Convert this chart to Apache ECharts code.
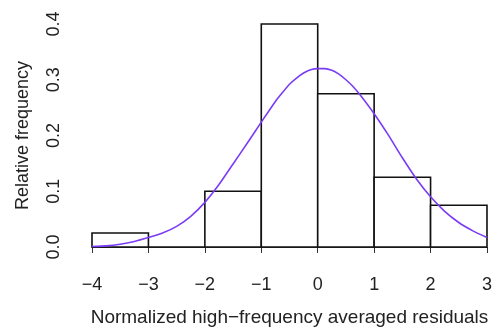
<!DOCTYPE html>
<html>
<head>
<meta charset="utf-8">
<script src="https://cdn.jsdelivr.net/npm/echarts@6/dist/echarts.min.js"></script>
<style>
  html, body { margin: 0; padding: 0; background: #fff; }
  #chart { width: 495px; height: 332px; }
</style>
</head>
<body>
<div id="chart"></div>
<script>
// histogram bins (left edge, width 1) and relative frequencies
var binStart = [-4, -3, -2, -1, 0, 1, 2];
var binFreq = [0.025, 0, 0.1, 0.4, 0.275, 0.125, 0.075];

// fitted density curve
var curveX = [-4, -3.75, -3.5, -3.25, -3, -2.75, -2.5, -2.25, -2, -1.75, -1.5, -1.25, -1, -0.75, -0.625, -0.5, -0.375, -0.25, -0.125,
              0, 0.125, 0.25, 0.375, 0.5, 0.625, 0.75, 1, 1.25, 1.5, 1.75, 2, 2.25, 2.5, 2.75, 3];
var curveY = [0.001, 0.002, 0.005, 0.010, 0.017, 0.025, 0.037, 0.055, 0.080, 0.112, 0.149, 0.186, 0.224, 0.261, 0.277, 0.292, 0.303, 0.312, 0.318,
              0.320, 0.320, 0.317, 0.310, 0.300, 0.288, 0.273, 0.239, 0.201, 0.160, 0.122, 0.090, 0.064, 0.044, 0.029, 0.017];

var xTicks = [-4, -3, -2, -1, 0, 1, 2, 3];
var yTicks = [0, 0.1, 0.2, 0.3, 0.4];

var font = '"Liberation Sans", Arial, sans-serif';
var textColor = '#222';

var histData = binStart.map(function(s, i){ return [s, s + 1, binFreq[i]]; });
var curveData = curveX.map(function(x, i){ return [x, curveY[i]]; });

var chart = echarts.init(document.getElementById('chart'));
var option = {
    animation: false,
    grid: { left: 92, right: 8, top: 24, bottom: 82.5 },
    xAxis: {
        type: 'value',
        min: xTicks[0],
        max: xTicks[xTicks.length - 1],
        interval: 1,
        offset: 11,
        name: 'Normalized high\u2212frequency averaged residuals',
        nameLocation: 'middle',
        nameGap: 50,
        nameTextStyle: { fontFamily: font, fontSize: 19, color: textColor },
        axisLine: { lineStyle: { color: '#333', width: 1 } },
        axisTick: { inside: false, length: 6, lineStyle: { color: '#333' } },
        axisLabel: {
            margin: 18,
            fontFamily: font, fontSize: 18, color: textColor,
            formatter: function(v){ return String(v).replace('-', '\u2212'); }
        },
        splitLine: { show: false }
    },
    yAxis: {
        type: 'value',
        min: yTicks[0],
        max: yTicks[yTicks.length - 1],
        interval: 0.1,
        offset: 16,
        name: 'Relative frequency',
        nameLocation: 'middle',
        nameGap: 44,
        nameTextStyle: { fontFamily: font, fontSize: 18, color: textColor },
        axisLine: { show: true, lineStyle: { color: '#333', width: 1 } },
        axisTick: { show: true, inside: false, length: 6, lineStyle: { color: '#333' } },
        axisLabel: {
            rotate: 90,
            margin: 13,
            fontFamily: font, fontSize: 18, color: textColor,
            formatter: function(v){ return v.toFixed(1); }
        },
        splitLine: { show: false }
    },
    series: [{
        type: 'custom',
        data: histData,
        encode: { x: [0, 1], y: 2 },
        renderItem: function(params, api){
            var p0 = api.coord([api.value(0), 0]);
            var p1 = api.coord([api.value(1), api.value(2)]);
            return {
                type: 'rect',
                shape: { x: p0[0], y: p1[1], width: p1[0] - p0[0], height: p0[1] - p1[1] },
                style: { fill: '#fff', stroke: '#111', lineWidth: 1.6 }
            };
        }
    }, {
        type: 'line',
        data: curveData,
        smooth: 0.2,
        showSymbol: false,
        lineStyle: { color: '#7a3cf6', width: 1.6 },
        z: 3
    }]
};
chart.setOption(option);
</script>
</body>
</html>
